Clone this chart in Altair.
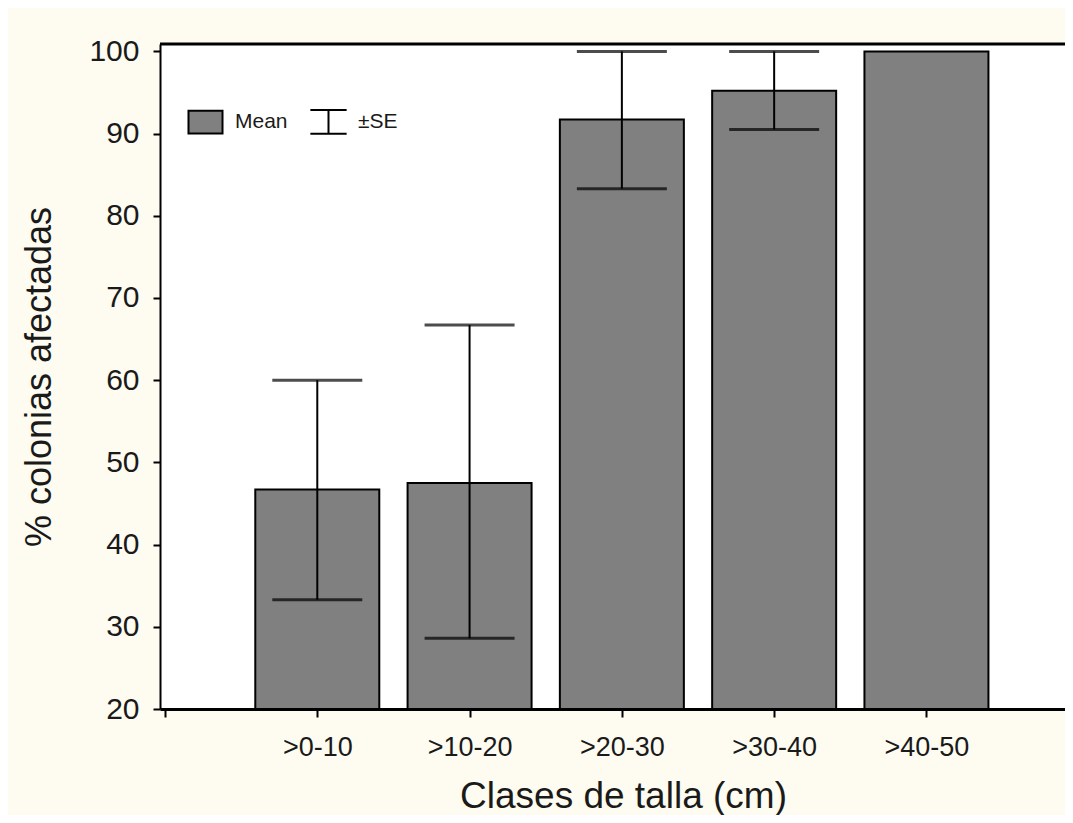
import altair as alt
import pandas as pd

categories = [">0-10", ">10-20", ">20-30", ">30-40", ">40-50"]
means = [46.7, 47.5, 91.7, 95.2, 100.0]
upper = [60.0, 66.7, 100.0, 100.0, 100.0]
lower = [33.3, 28.6, 83.3, 90.5, 100.0]
y_ticks = [20, 30, 40, 50, 60, 70, 80, 90, 100]
legend_items = ["Mean", "±SE"]
Y_MIN, Y_MAX = 20, 100.9

positions = list(range(1, len(categories) + 1))
df = pd.DataFrame({"cat": categories, "pos": positions, "mean": means,
                   "hi": upper, "lo": lower})
err = df[df["hi"] > df["lo"]]
caps = pd.concat([
    err[["pos", "hi"]].rename(columns={"hi": "v"}),
    err[["pos", "lo"]].rename(columns={"lo": "v"}),
])
leg = pd.DataFrame({"item": legend_items, "pos": [-1, -1], "v": [50, 50]})

FONT = "Liberation Sans"
TXT = "#1a1a1a"

xscale = alt.Scale(domain=[0, 5.877], nice=False, zero=False)
yscale = alt.Scale(domain=[Y_MIN, Y_MAX], nice=False, zero=False)
label_js = "[" + ",".join(["''"] + ["'" + c + "'" for c in categories]) + "][datum.value]"

x_bottom = alt.Axis(values=[0] + positions, labelExpr=label_js, title="Clases de talla (cm)",
                    tickSize=8, tickWidth=2, tickColor="black", domainWidth=3,
                    domainColor="black", labelFontSize=27, labelFont=FONT,
                    labelColor=TXT, labelPadding=17, titleFontSize=37, titleFont=FONT,
                    titleFontWeight="normal", titleColor=TXT, titlePadding=18,
                    titleX=463, grid=False, labelFlush=False, labelOverlap=False)
y_axis = alt.Axis(values=y_ticks, title="% colonias afectadas", tickSize=7, tickWidth=2,
                  tickColor="black", domainWidth=2, domainColor="black",
                  labelFontSize=30, labelFont=FONT, labelColor=TXT, labelPadding=14,
                  titleFontSize=36, titleFont=FONT, titleFontWeight="normal",
                  titleColor=TXT, titlePadding=30, grid=False, labelFlush=False)

bars = alt.Chart(df).mark_bar(size=124, fill="#808080", stroke="black", strokeWidth=2).encode(
    x=alt.X("pos:Q", scale=xscale, axis=x_bottom),
    y=alt.Y("mean:Q", scale=yscale, axis=y_axis),
    y2=alt.datum(Y_MIN),
)

stems = alt.Chart(err).mark_rule(color="black", strokeWidth=2).encode(
    x=alt.X("pos:Q", scale=xscale),
    y=alt.Y("lo:Q", scale=yscale),
    y2="hi:Q",
)

capmarks = alt.Chart(caps).mark_tick(orient="horizontal", size=90, thickness=3,
                                     color="black").encode(
    x=alt.X("pos:Q", scale=xscale),
    y=alt.Y("v:Q", scale=yscale),
)

top_line = alt.Chart(pd.DataFrame({"v": [Y_MAX]})).mark_rule(
    color="black", strokeWidth=3).encode(y=alt.Y("v:Q", scale=yscale))

rect_path = "M-1.5,-1H1.5V1H-1.5Z"
ibeam_path = "M-1.6,-1.05H1.6M0,-1.05V1.05M-1.6,1.05H1.6"

legend_def = alt.Legend(orient="none", legendX=33, legendY=65,
                        direction="horizontal", title=None,
                        labelFontSize=21, labelFont=FONT,
                        labelColor=TXT, symbolSize=514,
                        symbolStrokeWidth=2,
                        labelOffset=17, columnPadding=18,
                        padding=0)

legend_layer = alt.Chart(leg).mark_point(size=514, strokeWidth=2, clip=True,
                                         opacity=1).encode(
    x=alt.X("pos:Q", scale=xscale),
    y=alt.Y("v:Q", scale=yscale),
    shape=alt.Shape("item:N", scale=alt.Scale(domain=legend_items,
                                              range=[rect_path, ibeam_path]),
                    legend=legend_def),
    fill=alt.Fill("item:N", scale=alt.Scale(domain=legend_items,
                                            range=["#808080", "transparent"]),
                  legend=legend_def),
    stroke=alt.Stroke("item:N", scale=alt.Scale(domain=legend_items,
                                                range=["black", "black"]),
                      legend=legend_def),
)

chart = alt.layer(bars, stems, capmarks, top_line, legend_layer).properties(
    width=905, height=665,
    background="#FEFCF1",
    padding={"left": 152, "top": 36, "right": 0, "bottom": 106},
    autosize=alt.AutoSizeParams(type="none"),
).configure_view(fill="white", stroke=None)

chart.save("out.html", embed_options={"renderer": "svg", "actions": False})
